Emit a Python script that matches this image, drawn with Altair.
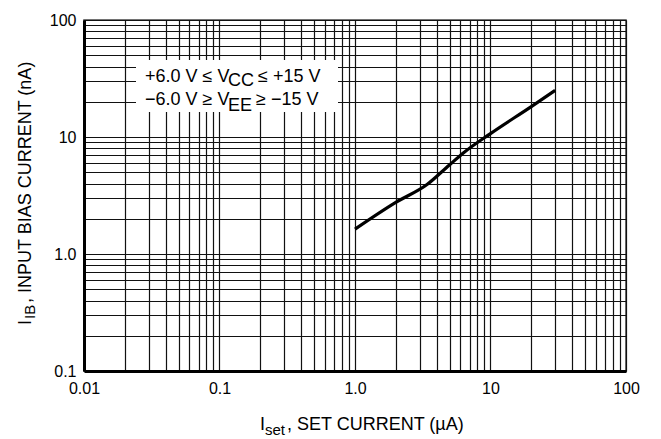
import altair as alt
import pandas as pd

# ---- data ----
iset = [1.0, 2.0, 3.4, 5.0, 6.3, 10.0, 20.0, 30.0]          # I_set (uA)
iib = [1.63, 2.76, 3.92, 5.8, 7.3, 10.7, 18.2, 25.0]        # I_IB (nA)

x_tick_values = [0.01, 0.1, 1.0, 10.0, 100.0]
x_tick_labels = ["0.01", "0.1", "1.0", "10", "100"]
y_tick_values = [0.1, 1.0, 10.0, 100.0]
y_tick_labels = ["0.1", "1.0", "10", "100"]

box_line1 = ["+6.0 V \u2264 V", "CC", "\u2264 +15 V"]
box_line2 = ["\u22126.0 V \u2265 V", "EE", "\u2265 \u221215 V"]
x_title = ["I", "set", ", SET CURRENT (\u00b5A)"]
y_title = ["I", "IB", ", INPUT BIAS CURRENT (nA)"]

FONT = "Liberation Sans, Arial"

# grid positions (1..9 per decade)
x_grid = [m * 10.0 ** e for e in range(-2, 2) for m in range(1, 10)] + [100.0]
y_grid = [m * 10.0 ** e for e in range(-1, 2) for m in range(1, 10)] + [100.0]


def label_expr(values, labels):
    expr = "''"
    for v, t in reversed(list(zip(values, labels))):
        expr = f"abs(datum.value - {v}) < {v * 1e-6} ? '{t}' : ({expr})"
    return expr


df = pd.DataFrame({"iset": iset, "iib": iib})

xs = alt.Scale(type="log", domain=[0.01, 100], nice=False)
ys = alt.Scale(type="log", domain=[0.1, 100], nice=False)

curve = alt.Chart(df).mark_line(color="black", strokeWidth=3.2, interpolate="monotone").encode(
    x=alt.X("iset:Q", scale=xs, axis=alt.Axis(
        values=x_grid, labelExpr=label_expr(x_tick_values, x_tick_labels),
        grid=True, gridColor="#111", gridWidth=1.2, gridOpacity=1,
        ticks=False, title=None, labelFont=FONT, labelFontSize=16,
        labelColor="black", labelPadding=9, labelFlush=False, labelOverlap=False,
        domainColor="black", domainWidth=3)),
    y=alt.Y("iib:Q", scale=ys, axis=alt.Axis(
        values=y_grid, labelExpr=label_expr(y_tick_values, y_tick_labels),
        grid=True, gridColor="#111", gridWidth=1.2, gridOpacity=1,
        ticks=False, title=None, labelFont=FONT, labelFontSize=16,
        labelColor="black", labelPadding=8, labelFlush=False, labelOverlap=False,
        domainColor="black", domainWidth=3)),
)

one = pd.DataFrame({"k": [0]})

box = alt.Chart(one).mark_rect(color="white").encode(
    x=alt.value(52), x2=alt.value(254), y=alt.value(40), y2=alt.value(92))


def txt(s, x, y, size, angle=0):
    kw = dict(font=FONT, fontSize=size, color="black", align="left",
              baseline="alphabetic", text=s)
    if angle:
        kw["angle"] = angle
    return alt.Chart(one).mark_text(**kw).encode(x=alt.value(x), y=alt.value(y))


layers = [curve, box,
          txt(box_line1[0], 61, 62, 18), txt(box_line1[1], 144, 66, 18), txt(box_line1[2], 174, 62, 18),
          txt(box_line2[0], 61, 85, 18), txt(box_line2[1], 144, 91, 18), txt(box_line2[2], 172, 85, 18),
          txt(x_title[0], 176, 410, 18), txt(x_title[1], 181, 415, 15), txt(x_title[2], 203, 410, 18),
          txt(y_title[0], -53, 305, 18, 270), txt(y_title[1], -49, 299, 15, 270),
          txt(y_title[2], -53, 283, 18, 270)]

chart = alt.layer(*layers).properties(
    width=542, height=351,
    autosize=alt.AutoSizeParams(type="none"),
    padding={"left": 84, "top": 20, "right": 35, "bottom": 68},
).configure_view(stroke="#444", strokeWidth=1.5)

chart.save("out.html", embed_options={"renderer": "svg", "actions": False})
